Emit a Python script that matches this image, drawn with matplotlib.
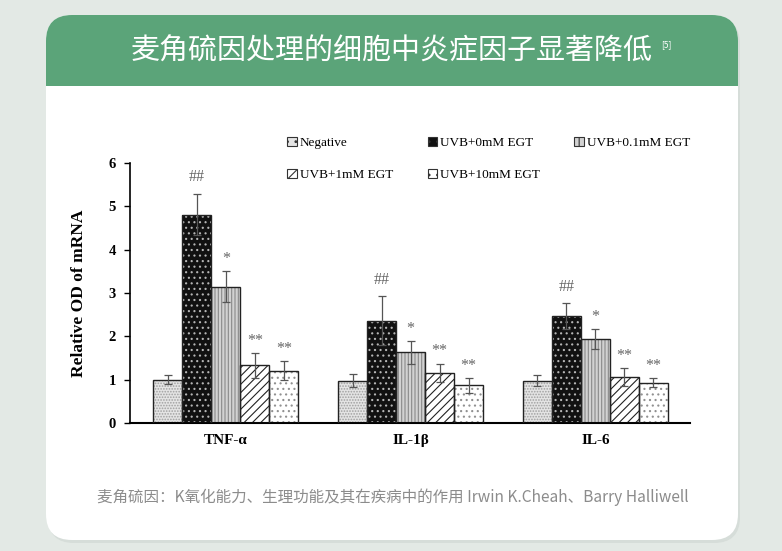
import numpy as np
import matplotlib
matplotlib.use("Agg")
import matplotlib.pyplot as plt
from matplotlib.patches import FancyBboxPatch, Rectangle

plt.rcParams['font.family'] = ['Noto Sans CJK SC', 'DejaVu Sans']
plt.rcParams['hatch.linewidth'] = 0.8

# data
genes = ["TNF-α", "IL-1β", "IL-6"]
groups = ["Negative", "UVB+0mM EGT", "UVB+0.1mM EGT", "UVB+1mM EGT", "UVB+10mM EGT"]
negative = [1.00, 0.98, 0.98]
uvb_0 = [4.81, 2.36, 2.46]
uvb_01 = [3.15, 1.63, 1.94]
uvb_1 = [1.33, 1.16, 1.06]
uvb_10 = [1.21, 0.87, 0.93]
err_negative = [0.11, 0.14, 0.12]
err_uvb_0 = [0.48, 0.56, 0.30]
err_uvb_01 = [0.36, 0.27, 0.23]
err_uvb_1 = [0.28, 0.21, 0.21]
err_uvb_10 = [0.21, 0.17, 0.11]
marks = ["", "##", "*", "**", "**"]

title = "麦角硫因处理的细胞中炎症因子显著降低"
source = "麦角硫因：K氧化能力、生理功能及其在疾病中的作用 Irwin K.Cheah、Barry Halliwell"

values = [negative, uvb_0, uvb_01, uvb_1, uvb_10]
errors = [err_negative, err_uvb_0, err_uvb_01, err_uvb_1, err_uvb_10]
faces = ["#e4e4e4", "#111111", "#d2d2d2", "white", "white"]
hatch_cols = ["#a0a0a0", "#b5b5b5", "#8a8a8a", "#222222", "#909090"]
hatches = ["......", "...", "|||||", "////", "..."]

W, H = 782, 551
fig = plt.figure(figsize=(W / 100, H / 100), dpi=100)
fig.patch.set_facecolor("#e3e9e5")

# card background in pixel coords
bg = fig.add_axes([0, 0, 1, 1])
bg.set_xlim(0, W)
bg.set_ylim(H, 0)
bg.axis("off")
bg.add_patch(FancyBboxPatch((48, 18), 692, 525, boxstyle="round,pad=0,rounding_size=26",
                            fc="#d6ddd9", ec="none"))
bg.add_patch(FancyBboxPatch((46, 15), 692, 525, boxstyle="round,pad=0,rounding_size=26",
                            fc="white", ec="none"))
bg.add_patch(FancyBboxPatch((46, 15), 692, 110, boxstyle="round,pad=0,rounding_size=26",
                            fc="#5ba479", ec="none"))
bg.add_patch(Rectangle((46, 86), 692, 60, fc="white", ec="none"))
bg.text(392, 52, title, color="white", fontsize=20.9, fontweight="light",
        ha="center", va="center")
bg.text(666, 45, "[5]", color="white", fontsize=6, ha="center", va="center")
bg.text(393, 497, source, color="#8c8c8c", fontsize=11.2, fontweight="light",
        ha="center", va="center")

# chart
serif = "Liberation Serif"
ax = fig.add_axes([130 / W, 1 - 423 / H, 560 / W, 260 / H])
ax.set_facecolor("none")
x = np.arange(len(genes))
bw = 0.157
for k in range(len(groups)):
    pos = x + (k - 2) * bw
    ax.bar(pos, values[k], bw, color=faces[k], edgecolor=hatch_cols[k],
           hatch=hatches[k], linewidth=0, zorder=2)
    ax.bar(pos, values[k], bw, fill=False, edgecolor="#222222", linewidth=1.0, zorder=3)
    ax.errorbar(pos, values[k], yerr=errors[k], fmt="none", ecolor="#555555",
                elinewidth=0.9, capsize=3, capthick=0.9, zorder=4)
    if marks[k]:
        for p, v, e in zip(pos, values[k], errors[k]):
            off = 0.38 if marks[k] == "##" else 0.28
            ax.text(p, v + e + off, marks[k], ha="center", va="center",
                    fontsize=11.5, color="#666666", family=serif)
    # legend proxy
    ax.bar([np.nan], [np.nan], bw, color=faces[k], edgecolor="#333333",
           hatch=hatches[k][:2], linewidth=0.8, label=groups[k])

ax.set_xlim(-0.518, 2.512)
ax.set_ylim(0, 6)
ax.set_yticks(range(7))
ax.set_xticks(x)
ax.set_xticklabels(genes, family=serif, fontweight="bold", fontsize=11)
for t in ax.get_yticklabels():
    t.set_family(serif)
    t.set_fontweight("bold")
    t.set_fontsize(10.5)
ax.tick_params(axis="x", length=0, pad=8)
ax.tick_params(axis="y", length=4, width=1, direction="out", pad=6)
ax.spines["top"].set_visible(False)
ax.spines["right"].set_visible(False)
ax.spines["left"].set_linewidth(1.2)
ax.spines["bottom"].set_linewidth(1.5)
ax.set_ylabel("Relative OD of mRNA", family=serif, fontweight="bold", fontsize=12.5,
              labelpad=16)

handles, labels = ax.get_legend_handles_labels()
order = [0, 3, 1, 4, 2]
leg = ax.legend([handles[i] for i in order], [labels[i] for i in order], ncol=3,
                loc="upper left", bbox_to_anchor=(0.26, 1.145), frameon=False,
                prop={"family": serif, "size": 9.5}, handlelength=0.7, handleheight=0.7,
                handletextpad=0.25, columnspacing=2.6, labelspacing=1.45)

fig.savefig("out.png", dpi=100)
